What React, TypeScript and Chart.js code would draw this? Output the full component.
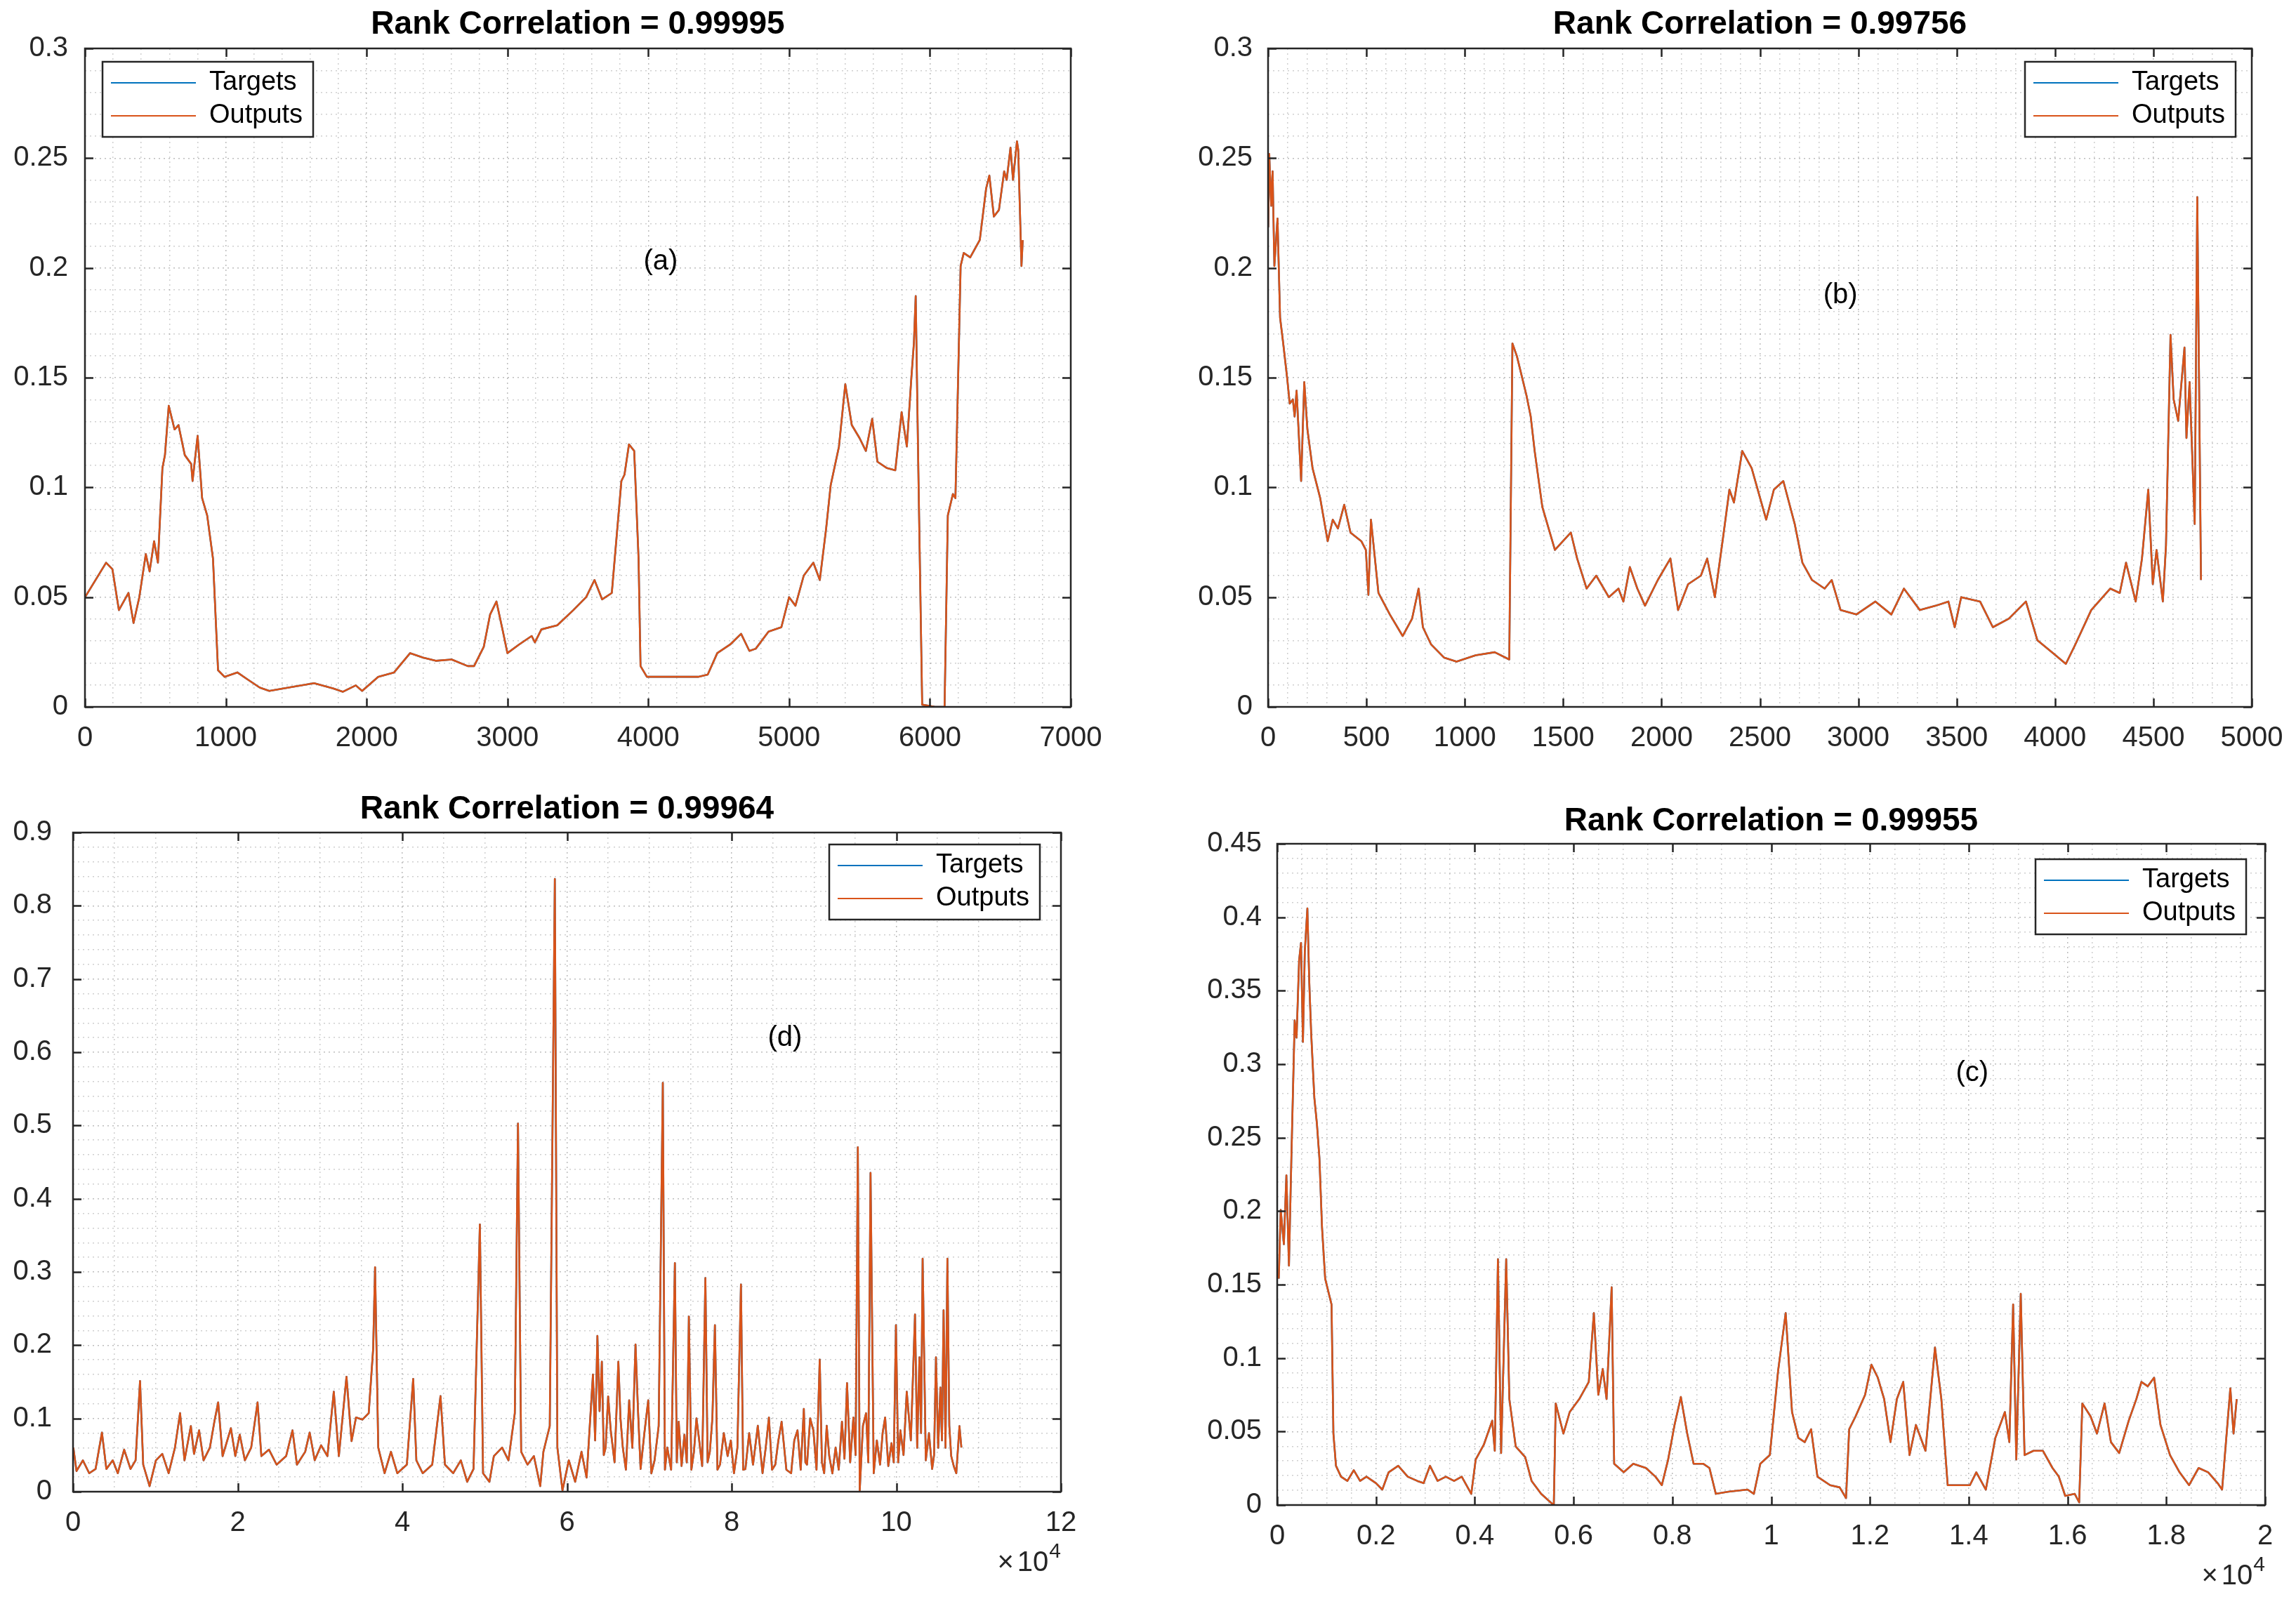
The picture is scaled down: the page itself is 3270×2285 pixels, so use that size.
import React, { useEffect, useRef } from "react";
import { Chart, registerables } from "chart.js";

Chart.register(...registerables);

const FONT = '"Liberation Sans", Arial, Helvetica, sans-serif';
const TARGETS_COLOR = "#0072BD";
const OUTPUTS_COLOR = "#D95319";
const AXIS_COLOR = "#262626";
const MAJOR_GRID = "rgba(38,38,38,0.30)";
const MINOR_GRID = "rgba(38,38,38,0.22)";
const TITLE_SIZE = 46;
const TICK_SIZE = 40;
const LEGEND_SIZE = 38;
const LEGEND_W = 300;
const LEGEND_H = 107;

const SERIES_LABELS = ["Targets", "Outputs"];

// ---------- (a) ----------
const aIndex = [
  1, 150, 195, 241, 309, 345, 386, 432, 459, 491,
  518, 550, 568, 595, 636, 664, 709, 754, 764, 800,
  832, 868, 909, 945, 991, 1082, 1150, 1241, 1309, 1445,
  1627, 1763, 1832, 1923, 1968, 2082, 2195, 2309, 2400, 2491,
  2604, 2718, 2763, 2832, 2877, 2922, 2968, 3000, 3082, 3172,
  3195, 3241, 3354, 3468, 3559, 3618, 3672, 3741, 3809, 3831,
  3863, 3900, 3931, 3945, 3990, 4354, 4422, 4490, 4581, 4659,
  4718, 4763, 4854, 4945, 5000, 5045, 5104, 5172, 5218, 5263,
  5295, 5354, 5399, 5445, 5500, 5545, 5590, 5627, 5695, 5754,
  5799, 5836, 5868, 5886, 5899, 5918, 5945, 6036, 6104, 6127,
  6163, 6181, 6218, 6240, 6286, 6354, 6399, 6422, 6454, 6490,
  6527, 6545, 6572, 6590, 6618, 6627, 6650, 6659,
];
const aOutputs = [
  0.0500, 0.0657, 0.0627, 0.0441, 0.0519, 0.0382, 0.0500, 0.0696, 0.0617, 0.0755,
  0.0657, 0.1088, 0.1147, 0.1372, 0.1264, 0.1284, 0.1147, 0.1107, 0.1029, 0.1235,
  0.0951, 0.0872, 0.0676, 0.0167, 0.0137, 0.0157, 0.0127, 0.0088, 0.0073, 0.0088,
  0.0108, 0.0084, 0.0069, 0.0098, 0.0073, 0.0137, 0.0157, 0.0245, 0.0225, 0.0210,
  0.0216, 0.0186, 0.0186, 0.0274, 0.0421, 0.0480, 0.0343, 0.0245, 0.0284, 0.0323,
  0.0294, 0.0353, 0.0372, 0.0441, 0.0500, 0.0578, 0.0490, 0.0519, 0.1029, 0.1058,
  0.1196, 0.1166, 0.0676, 0.0186, 0.0137, 0.0137, 0.0147, 0.0245, 0.0284, 0.0333,
  0.0255, 0.0265, 0.0343, 0.0363, 0.0500, 0.0461, 0.0598, 0.0657, 0.0578, 0.0813,
  0.1009, 0.1186, 0.1470, 0.1284, 0.1225, 0.1166, 0.1313, 0.1117, 0.1088, 0.1078,
  0.1343, 0.1186, 0.1499, 0.1656, 0.1872, 0.1068, 0.0010, 0.0000, 0.0000, 0.0872,
  0.0970, 0.0951, 0.2009, 0.2068, 0.2048, 0.2127, 0.2362, 0.2421, 0.2234, 0.2264,
  0.2440, 0.2401, 0.2548, 0.2401, 0.2577, 0.2538, 0.2009, 0.2127,
];
const aTargets = [...aOutputs];

// ---------- (b) ----------
const bIndex = [
  1, 6, 16, 23, 32, 48, 61, 77, 97, 110,
  126, 135, 145, 168, 184, 200, 226, 265, 303, 329,
  355, 387, 419, 474, 497, 510, 523, 561, 619, 684,
  732, 765, 787, 829, 894, 958, 1055, 1152, 1226, 1242,
  1265, 1313, 1335, 1355, 1394, 1458, 1539, 1571, 1619, 1668,
  1732, 1781, 1806, 1839, 1877, 1916, 1981, 2045, 2084, 2135,
  2200, 2232, 2271, 2313, 2345, 2368, 2410, 2458, 2532, 2571,
  2619, 2677, 2716, 2765, 2829, 2865, 2910, 2990, 3087, 3168,
  3232, 3313, 3394, 3458, 3490, 3523, 3619, 3684, 3765, 3852,
  3910, 3990, 4055, 4103, 4184, 4281, 4329, 4361, 4410, 4442,
  4474, 4497, 4516, 4548, 4564, 4587, 4603, 4626, 4658, 4668,
  4684, 4710, 4723, 4742,
];
const bOutputs = [
  0.2185, 0.2519, 0.2283, 0.2440, 0.2009, 0.2225, 0.1774, 0.1656, 0.1499, 0.1382,
  0.1401, 0.1323, 0.1441, 0.1029, 0.1480, 0.1264, 0.1088, 0.0951, 0.0755, 0.0853,
  0.0813, 0.0921, 0.0794, 0.0755, 0.0715, 0.0510, 0.0853, 0.0519, 0.0421, 0.0323,
  0.0402, 0.0539, 0.0363, 0.0284, 0.0225, 0.0206, 0.0235, 0.0249, 0.0216, 0.1656,
  0.1597, 0.1421, 0.1323, 0.1166, 0.0911, 0.0715, 0.0794, 0.0676, 0.0539, 0.0598,
  0.0500, 0.0539, 0.0480, 0.0637, 0.0539, 0.0461, 0.0578, 0.0676, 0.0441, 0.0559,
  0.0598, 0.0676, 0.0500, 0.0774, 0.0990, 0.0931, 0.1166, 0.1088, 0.0853, 0.0990,
  0.1029, 0.0833, 0.0657, 0.0578, 0.0539, 0.0578, 0.0441, 0.0421, 0.0480, 0.0421,
  0.0539, 0.0441, 0.0461, 0.0480, 0.0363, 0.0500, 0.0480, 0.0363, 0.0402, 0.0480,
  0.0304, 0.0245, 0.0196, 0.0284, 0.0441, 0.0539, 0.0519, 0.0657, 0.0480, 0.0676,
  0.0990, 0.0559, 0.0715, 0.0480, 0.0735, 0.1695, 0.1401, 0.1303, 0.1637, 0.1225,
  0.1480, 0.0833, 0.2323, 0.0578,
];
const bTargets = [...bOutputs];

// ---------- (d) ----------
const dIndex = [
  39, 424, 1196, 1968, 2739, 3511, 4051, 4823, 5440, 6212,
  6983, 7600, 8140, 8526, 9298, 10069, 10841, 11613, 12384, 13001,
  13542, 14313, 14699, 15316, 15856, 16628, 17168, 17631, 18171, 19174,
  19714, 20255, 20872, 21643, 22415, 22878, 23804, 24730, 25887, 26659,
  27199, 28202, 28742, 29359, 30131, 30902, 31674, 32291, 33217, 33834,
  34374, 35146, 35917, 36458, 36689, 37075, 37847, 38618, 39390, 40547,
  41319, 41705, 42476, 43633, 44637, 45177, 46180, 47106, 47877, 48649,
  49420, 49806, 50578, 51118, 52121, 52893, 53664, 54050, 54436, 55207,
  55979, 56750, 57136, 57908, 58525, 58834, 59451, 60223, 60994, 61766,
  62383, 62770, 63155, 63420, 63695, 63960, 64235, 64470, 64698, 65000,
  65315, 65780, 66241, 66500, 66781, 67160, 67553, 67940, 68325, 68630,
  68942, 69400, 69868, 70250, 70639, 71140, 71642, 71900, 72182, 72650,
  73108, 73340, 73571, 73920, 74266, 74550, 74806, 75110, 75423, 75730,
  76040, 76420, 76812, 77080, 77352, 77660, 77969, 78280, 78587, 79050,
  79513, 79900, 80284, 80700, 81133, 81400, 81673, 82130, 82599, 83180,
  83756, 84140, 84528, 84910, 85299, 85680, 86071, 86650, 87228, 87610,
  88000, 88390, 88771, 88960, 89157, 89540, 89929, 90310, 90700, 90970,
  91240, 91550, 91858, 92240, 92629, 93010, 93401, 93710, 94018, 94400,
  94790, 95060, 95330, 95561, 95950, 96333, 96600, 96873, 97259, 97640,
  98030, 98340, 98648, 99030, 99419, 99690, 99959, 100230, 100499, 100880,
  101271, 101770, 102274, 102540, 102814, 103010, 103200, 103586, 103970, 104357,
  104590, 104820, 105090, 105360, 105550, 105746, 105980, 106209, 106440, 106672,
  106980, 107289, 107675, 107907,
];
const dOutputs = [
  0.0603, 0.0281, 0.0428, 0.0252, 0.0310, 0.0808, 0.0310, 0.0428, 0.0252, 0.0574,
  0.0310, 0.0428, 0.1511, 0.0369, 0.0076, 0.0428, 0.0516, 0.0252, 0.0603, 0.1072,
  0.0428, 0.0896, 0.0516, 0.0838, 0.0428, 0.0603, 0.0955, 0.1219, 0.0486, 0.0867,
  0.0486, 0.0779, 0.0428, 0.0603, 0.1219, 0.0486, 0.0574, 0.0369, 0.0486, 0.0838,
  0.0369, 0.0545, 0.0808, 0.0428, 0.0633, 0.0486, 0.1365, 0.0486, 0.1570, 0.0691,
  0.1013, 0.0984, 0.1072, 0.1951, 0.3064, 0.0603, 0.0252, 0.0545, 0.0252, 0.0369,
  0.1541, 0.0428, 0.0252, 0.0369, 0.1306, 0.0369, 0.0252, 0.0428, 0.0135, 0.0310,
  0.3650, 0.0252, 0.0135, 0.0486, 0.0603, 0.0428, 0.1072, 0.5026, 0.0545, 0.0369,
  0.0486, 0.0076, 0.0545, 0.0896, 0.8366, 0.0603, 0.0018, 0.0428, 0.0135, 0.0545,
  0.0193, 0.0900, 0.1599, 0.0700, 0.2127, 0.1100, 0.1775, 0.0500, 0.0603, 0.1300,
  0.0838, 0.0400, 0.1775, 0.1000, 0.0603, 0.0300, 0.1248, 0.0600, 0.2009, 0.1100,
  0.0310, 0.0800, 0.1248, 0.0250, 0.0428, 0.0900, 0.5583, 0.0300, 0.0603, 0.0300,
  0.3122, 0.0400, 0.0955, 0.0350, 0.0779, 0.0400, 0.2390, 0.0300, 0.0545, 0.1000,
  0.0721, 0.0350, 0.2917, 0.0400, 0.0545, 0.1000, 0.2273, 0.0300, 0.0369, 0.0800,
  0.0486, 0.0700, 0.0252, 0.0600, 0.2830, 0.0300, 0.0310, 0.0800, 0.0369, 0.0900,
  0.0252, 0.0600, 0.1013, 0.0300, 0.0369, 0.0700, 0.0955, 0.0300, 0.0252, 0.0700,
  0.0838, 0.0300, 0.1131, 0.0400, 0.0369, 0.1000, 0.0838, 0.0300, 0.1804, 0.0400,
  0.0252, 0.0900, 0.0486, 0.0250, 0.0603, 0.0300, 0.0955, 0.0450, 0.1482, 0.0400,
  0.1013, 0.0500, 0.4704, 0.0018, 0.0900, 0.1072, 0.0400, 0.4353, 0.0252, 0.0700,
  0.0369, 0.0800, 0.1013, 0.0350, 0.0662, 0.0400, 0.2273, 0.0400, 0.0838, 0.0500,
  0.1365, 0.0700, 0.2419, 0.0600, 0.1834, 0.0800, 0.3181, 0.0428, 0.0800, 0.0310,
  0.0500, 0.1834, 0.0600, 0.1424, 0.0700, 0.2478, 0.0600, 0.3181, 0.0900, 0.0486,
  0.0350, 0.0252, 0.0896, 0.0603,
];
const dTargets = [...dOutputs];

// ---------- (c) ----------
const cIndex = [
  32, 71, 135, 186, 238, 289, 354, 392, 444, 482,
  521, 559, 611, 649, 688, 752, 804, 855, 907, 971,
  1035, 1100, 1138, 1190, 1292, 1421, 1550, 1678, 1807, 2000,
  2128, 2257, 2450, 2643, 2836, 2964, 3093, 3247, 3414, 3581,
  3736, 3929, 4019, 4186, 4353, 4405, 4469, 4533, 4636, 4700,
  4829, 5022, 5150, 5343, 5536, 5600, 5639, 5794, 5922, 6115,
  6308, 6411, 6501, 6591, 6668, 6771, 6822, 7015, 7208, 7465,
  7658, 7787, 7915, 8044, 8172, 8301, 8430, 8623, 8751, 8880,
  9137, 9523, 9651, 9780, 9973, 10140, 10294, 10423, 10551, 10680,
  10809, 10937, 11194, 11387, 11516, 11580, 11709, 11902, 12030, 12159,
  12288, 12416, 12545, 12674, 12802, 12931, 13124, 13317, 13446, 13574,
  13831, 14024, 14153, 14346, 14539, 14732, 14822, 14899, 14963, 15053,
  15130, 15310, 15503, 15696, 15824, 15953, 16146, 16236, 16300, 16467,
  16596, 16750, 16879, 17046, 17239, 17393, 17496, 17625, 17753, 17882,
  18075, 18268, 18461, 18654, 18847, 19039, 19129, 19296, 19361, 19425,
];
const cOutputs = [
  0.1541, 0.2009, 0.1775, 0.2244, 0.1629, 0.2390, 0.3298, 0.3181, 0.3708, 0.3825,
  0.3152, 0.3767, 0.4060, 0.3562, 0.3210, 0.2771, 0.2595, 0.2361, 0.1892, 0.1541,
  0.1453, 0.1365, 0.0486, 0.0267, 0.0193, 0.0164, 0.0237, 0.0164, 0.0193, 0.0149,
  0.0105, 0.0223, 0.0267, 0.0193, 0.0164, 0.0149, 0.0267, 0.0164, 0.0193, 0.0164,
  0.0193, 0.0076, 0.0310, 0.0413, 0.0574, 0.0369, 0.1673, 0.0354, 0.1673, 0.0721,
  0.0398, 0.0325, 0.0164, 0.0076, 0.0018, 0.0000, 0.0691, 0.0486, 0.0633, 0.0721,
  0.0838, 0.1306, 0.0750, 0.0926, 0.0721, 0.1482, 0.0281, 0.0223, 0.0281, 0.0252,
  0.0193, 0.0135, 0.0310, 0.0545, 0.0735, 0.0486, 0.0281, 0.0281, 0.0252, 0.0076,
  0.0091, 0.0105, 0.0076, 0.0281, 0.0340, 0.0911, 0.1306, 0.0633, 0.0457, 0.0428,
  0.0516, 0.0193, 0.0135, 0.0120, 0.0047, 0.0516, 0.0603, 0.0750, 0.0955, 0.0867,
  0.0721, 0.0428, 0.0721, 0.0838, 0.0340, 0.0545, 0.0369, 0.1072, 0.0721, 0.0135,
  0.0135, 0.0135, 0.0223, 0.0105, 0.0457, 0.0633, 0.0428, 0.1365, 0.0310, 0.1438,
  0.0340, 0.0369, 0.0369, 0.0252, 0.0193, 0.0062, 0.0076, 0.0018, 0.0691, 0.0603,
  0.0486, 0.0691, 0.0428, 0.0354, 0.0574, 0.0721, 0.0838, 0.0808, 0.0867, 0.0545,
  0.0340, 0.0223, 0.0135, 0.0252, 0.0223, 0.0149, 0.0105, 0.0794, 0.0486, 0.0721,
];
const cTargets = [...cOutputs];

type Box = { left: number; top: number; width: number; height: number };
type Plot = { left: number; top: number; right: number; bottom: number };

interface Panel {
  key: string;
  title: string;
  tag: string;
  tagX: number;
  tagY: number;
  xs: number[];
  targets: number[];
  outputs: number[];
  canvas: Box;
  plot: Plot;
  titleCenterY: number;
  xMax: number;
  xMinor: number;
  xMajor: number;
  xLabel: (v: number) => string;
  yMax: number;
  yMinor: number;
  yMajor: number;
  yPad: number;
  exponent: boolean;
  legendSide: "left" | "right";
  legendDX: number;
  legendDY: number;
}

const fmt = (v: number, d: number) => String(+v.toFixed(d));

const PANELS: Panel[] = [
  {
    key: "a",
    title: "Rank Correlation = 0.99995",
    tag: "(a)", tagX: 4088, tagY: 0.2028,
    xs: aIndex, targets: aTargets, outputs: aOutputs,
    canvas: { left: 0, top: 0, width: 1568, height: 1107 },
    plot: { left: 121, top: 69, right: 1525, bottom: 1007 },
    titleCenterY: 35,
    xMax: 7000, xMinor: 200, xMajor: 1000, xLabel: (v) => String(v),
    yMax: 0.3, yMinor: 0.01, yMajor: 0.05, yPad: 24,
    exponent: false,
    legendSide: "left", legendDX: 25, legendDY: 19,
  },
  {
    key: "b",
    title: "Rank Correlation = 0.99756",
    tag: "(b)", tagX: 2909, tagY: 0.1874,
    xs: bIndex, targets: bTargets, outputs: bOutputs,
    canvas: { left: 1640, top: 0, width: 1630, height: 1107 },
    plot: { left: 1806, top: 69, right: 3207, bottom: 1007 },
    titleCenterY: 35,
    xMax: 5000, xMinor: 100, xMajor: 500, xLabel: (v) => String(v),
    yMax: 0.3, yMinor: 0.01, yMajor: 0.05, yPad: 22,
    exponent: false,
    legendSide: "right", legendDX: 23, legendDY: 19,
  },
  {
    key: "d",
    title: "Rank Correlation = 0.99964",
    tag: "(d)", tagX: 86480, tagY: 0.619,
    xs: dIndex, targets: dTargets, outputs: dOutputs,
    canvas: { left: 0, top: 1110, width: 1600, height: 1160 },
    plot: { left: 104, top: 1186, right: 1511, bottom: 2125 },
    titleCenterY: 1153,
    xMax: 120000, xMinor: 5000, xMajor: 20000, xLabel: (v) => fmt(v / 10000, 1),
    yMax: 0.9, yMinor: 0.02, yMajor: 0.1, yPad: 30,
    exponent: true,
    legendSide: "right", legendDX: 30, legendDY: 17,
  },
  {
    key: "c",
    title: "Rank Correlation = 0.99955",
    tag: "(c)", tagX: 14070, tagY: 0.2938,
    xs: cIndex, targets: cTargets, outputs: cOutputs,
    canvas: { left: 1640, top: 1110, width: 1630, height: 1175 },
    plot: { left: 1819, top: 1202, right: 3226, bottom: 2144 },
    titleCenterY: 1170,
    xMax: 20000, xMinor: 500, xMajor: 2000, xLabel: (v) => fmt(v / 10000, 1),
    yMax: 0.45, yMinor: 0.01, yMajor: 0.05, yPad: 22,
    exponent: true,
    legendSide: "right", legendDX: 27, legendDY: 22,
  },
];

const isMajor = (v: number, major: number) =>
  Math.abs(v / major - Math.round(v / major)) < 1e-6;

function panelPlugin(p: Panel) {
  return {
    id: "matlabPanel",
    afterLayout(chart: any) {
      const ca = chart.chartArea;
      const lg = chart.legend;
      const bx = p.legendSide === "left" ? ca.left + p.legendDX : ca.right - p.legendDX - LEGEND_W;
      const by = ca.top + p.legendDY;
      chart.$legendBox = { x: bx, y: by };
      if (lg) {
        const pad = lg.options.labels.padding;
        lg.left = bx + 12 - pad;
        lg.top = by + 30 - pad - LEGEND_SIZE / 2;
        lg.right = ca.right;
        lg.bottom = ca.bottom;
      }
    },
    afterDatasetsDraw(chart: any) {
      const ctx: CanvasRenderingContext2D = chart.ctx;
      const ca = chart.chartArea;
      const xs = chart.scales.x;
      const ys = chart.scales.y;
      const TL = 12;
      ctx.save();
      ctx.strokeStyle = AXIS_COLOR;
      ctx.lineWidth = 2.5;
      ctx.beginPath();
      for (const t of xs.ticks) {
        if (!isMajor(t.value, p.xMajor)) continue;
        const px = Math.round(xs.getPixelForValue(t.value)) + 0.5;
        ctx.moveTo(px, ca.bottom);
        ctx.lineTo(px, ca.bottom - TL);
        ctx.moveTo(px, ca.top);
        ctx.lineTo(px, ca.top + TL);
      }
      for (const t of ys.ticks) {
        if (!isMajor(t.value, p.yMajor)) continue;
        const py = Math.round(ys.getPixelForValue(t.value)) + 0.5;
        ctx.moveTo(ca.left, py);
        ctx.lineTo(ca.left + TL, py);
        ctx.moveTo(ca.right, py);
        ctx.lineTo(ca.right - TL, py);
      }
      ctx.stroke();
      ctx.strokeRect(ca.left, ca.top, ca.right - ca.left, ca.bottom - ca.top);

      // panel tag
      ctx.fillStyle = "#000";
      ctx.font = `40px ${FONT}`;
      ctx.textAlign = "center";
      ctx.textBaseline = "middle";
      ctx.fillText(p.tag, xs.getPixelForValue(p.tagX), ys.getPixelForValue(p.tagY));

      // legend frame
      const lb = chart.$legendBox;
      ctx.fillStyle = "#fff";
      ctx.fillRect(lb.x, lb.y, LEGEND_W, LEGEND_H);
      ctx.lineWidth = 2.5;
      ctx.strokeStyle = AXIS_COLOR;
      ctx.strokeRect(lb.x, lb.y, LEGEND_W, LEGEND_H);

      // exponent label (x 10^4)
      if (p.exponent) {
        ctx.fillStyle = AXIS_COLOR;
        ctx.textAlign = "left";
        ctx.textBaseline = "alphabetic";
        ctx.font = `40px ${FONT}`;
        const wx = ctx.measureText("\u00d7").width;
        const w10 = ctx.measureText("10").width;
        ctx.font = `30px ${FONT}`;
        const w4 = ctx.measureText("4").width;
        const right = ca.right;
        const baseY = ca.bottom + 113;
        const x4 = right - w4;
        const x10 = x4 - 1 - w10;
        const xx = x10 - 5 - wx;
        ctx.font = `40px ${FONT}`;
        ctx.fillText("\u00d7", xx, baseY);
        ctx.fillText("10", x10, baseY);
        ctx.font = `30px ${FONT}`;
        ctx.fillText("4", x4, baseY - 19);
      }
      ctx.restore();
      if (chart.legend) chart.legend.draw();
    },
  };
}

function buildConfig(p: Panel): any {
  const yAxisWidth = p.plot.left - p.canvas.left;
  const padRight = p.canvas.left + p.canvas.width - p.plot.right;
  const xAxisHeight = p.canvas.top + p.canvas.height - p.plot.bottom;
  const titleTop = p.titleCenterY - p.canvas.top - TITLE_SIZE / 2;
  const titleBottom = p.plot.top - p.canvas.top - titleTop - TITLE_SIZE;
  const points = (vals: number[]) => p.xs.map((x, i) => ({ x, y: vals[i] }));
  const colors = [TARGETS_COLOR, OUTPUTS_COLOR];
  const seriesValues = [p.targets, p.outputs];

  return {
    type: "line",
    data: {
      datasets: SERIES_LABELS.map((label, i) => ({
        label,
        data: points(seriesValues[i]),
        borderColor: colors[i],
        backgroundColor: colors[i],
        borderWidth: 2.6,
        pointRadius: 0,
        tension: 0,
        fill: false,
        borderJoinStyle: "round",
        order: i === 0 ? 1 : 0,
      })),
    },
    options: {
      responsive: false,
      animation: false,
      devicePixelRatio: 1,
      events: [],
      layout: { padding: { left: 0, right: padRight, top: 0, bottom: 0 } },
      plugins: {
        title: {
          display: true,
          text: p.title,
          fullSize: false,
          color: "#000",
          font: { family: FONT, size: TITLE_SIZE, weight: "bold", lineHeight: 1 },
          padding: { top: titleTop, bottom: titleBottom },
        },
        legend: {
          display: true,
          position: "chartArea",
          align: "start",
          labels: {
            boxWidth: 121,
            boxHeight: 2,
            padding: 9,
            color: "#000",
            font: { family: FONT, size: LEGEND_SIZE },
            generateLabels: (chart: any) =>
              chart.data.datasets.map((ds: any, i: number) => ({
                text: ds.label,
                fillStyle: ds.borderColor,
                strokeStyle: ds.borderColor,
                lineWidth: 0,
                hidden: false,
                datasetIndex: i,
                fontColor: "#000",
              })),
          },
        },
        tooltip: { enabled: false },
      },
      scales: {
        x: {
          type: "linear",
          min: 0,
          max: p.xMax,
          afterFit: (s: any) => {
            s.height = xAxisHeight;
            s.paddingLeft = 0;
            s.paddingRight = 0;
          },
          ticks: {
            stepSize: p.xMinor,
            autoSkip: false,
            maxRotation: 0,
            minRotation: 0,
            padding: 21,
            color: AXIS_COLOR,
            font: { family: FONT, size: TICK_SIZE },
            callback: (v: number) => (isMajor(v, p.xMajor) ? p.xLabel(v) : ""),
          },
          grid: {
            drawTicks: false,
            lineWidth: 1.5,
            color: (c: any) => (c.tick && isMajor(c.tick.value, p.xMajor) ? MAJOR_GRID : MINOR_GRID),
          },
          border: { display: false, dash: [2, 5] },
        },
        y: {
          type: "linear",
          min: 0,
          max: p.yMax,
          afterFit: (s: any) => {
            s.width = yAxisWidth;
            s.paddingTop = 0;
            s.paddingBottom = 0;
          },
          ticks: {
            stepSize: p.yMinor,
            autoSkip: false,
            padding: p.yPad,
            color: AXIS_COLOR,
            font: { family: FONT, size: TICK_SIZE },
            callback: (v: number) => (isMajor(v, p.yMajor) ? fmt(v, 2) : ""),
          },
          grid: {
            drawTicks: false,
            lineWidth: 1.5,
            color: (c: any) => (c.tick && isMajor(c.tick.value, p.yMajor) ? MAJOR_GRID : MINOR_GRID),
          },
          border: { display: false, dash: [2, 5] },
        },
      },
    },
    plugins: [panelPlugin(p)],
  };
}

function PanelChart({ p }: { p: Panel }) {
  const ref = useRef<HTMLCanvasElement | null>(null);
  useEffect(() => {
    const canvas = ref.current;
    if (!canvas) return;
    const chart = new Chart(canvas, buildConfig(p));
    return () => chart.destroy();
  }, [p]);
  return (
    <canvas
      ref={ref}
      width={p.canvas.width}
      height={p.canvas.height}
      style={{
        position: "absolute",
        left: p.canvas.left,
        top: p.canvas.top,
        width: p.canvas.width,
        height: p.canvas.height,
      }}
    />
  );
}

export default function App() {
  return (
    <div
      style={{
        position: "absolute",
        left: 0,
        top: 0,
        width: 3270,
        height: 2285,
        background: "#fff",
        overflow: "hidden",
      }}
    >
      {PANELS.map((p) => (
        <PanelChart key={p.key} p={p} />
      ))}
    </div>
  );
}
